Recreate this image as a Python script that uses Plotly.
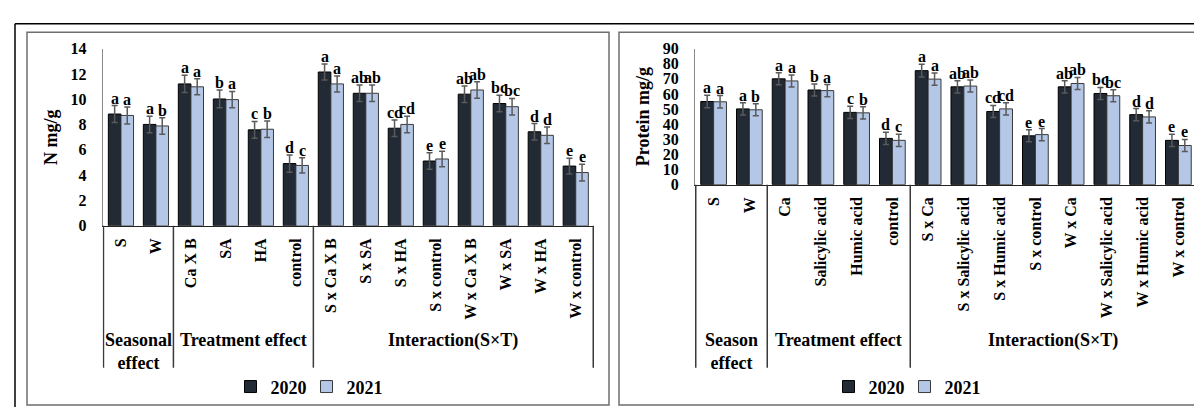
import plotly.graph_objects as go

# ---------------- data ----------------
n_categories = ["S", "W", "Ca X B", "SA", "HA", "control",
                "S x Ca X B", "S x SA", "S x HA", "S x control",
                "W x Ca X B", "W x SA", "W x HA", "W x control"]
n_2020 = [8.83, 8.01, 11.21, 10.02, 7.58, 4.92, 12.15, 10.47, 7.71, 5.12, 10.40, 9.66, 7.43, 4.72]
n_2021 = [8.72, 7.89, 10.98, 9.97, 7.63, 4.77, 11.21, 10.47, 8.01, 5.28, 10.73, 9.41, 7.15, 4.21]
n_err_2020 = [0.67, 0.65, 0.68, 0.70, 0.67, 0.68, 0.63, 0.65, 0.65, 0.65, 0.65, 0.65, 0.65, 0.62]
n_err_2021 = [0.67, 0.65, 0.63, 0.65, 0.65, 0.60, 0.63, 0.65, 0.65, 0.62, 0.65, 0.65, 0.65, 0.66]
n_let_2020 = ["a", "a", "a", "b", "c", "d", "a", "ab", "cd", "e", "ab", "bc", "d", "e"]
n_let_2021 = ["a", "b", "a", "a", "b", "c", "a", "ab", "cd", "e", "ab", "bc", "d", "e"]

p_categories = ["S", "W", "Ca", "Salicylic acid", "Humic acid", "control",
                "S x Ca", "S x Salicylic acid", "S x Humic acid", "S x control",
                "W x Ca", "W x Salicylic acid", "W x Humic acid", "W x control"]
p_2020 = [55.0, 50.1, 70.0, 62.6, 47.8, 30.6, 75.4, 64.7, 48.4, 32.3, 64.7, 60.3, 46.3, 29.3]
p_2021 = [54.8, 49.5, 68.6, 62.2, 47.5, 29.3, 69.8, 65.2, 50.1, 33.1, 66.9, 58.8, 44.8, 25.9]
p_err_2020 = [4.1, 4.0, 4.0, 4.0, 4.0, 4.0, 4.2, 4.0, 4.0, 4.0, 4.0, 4.0, 4.0, 4.0]
p_err_2021 = [4.1, 4.0, 4.0, 4.0, 4.0, 4.0, 4.0, 4.0, 4.0, 4.0, 4.0, 4.0, 4.0, 4.0]
p_let_2020 = ["a", "a", "a", "b", "c", "d", "a", "ab", "cd", "e", "ab", "bc", "d", "e"]
p_let_2021 = ["a", "b", "a", "a", "b", "c", "a", "ab", "cd", "e", "ab", "bc", "d", "e"]

years = ["2020", "2021"]
n_groups = ["Seasonal<br>effect", "Treatment effect", "Interaction(S×T)"]
p_groups = ["Season<br>effect", "Treatment effect", "Interaction(S×T)"]
group_centers = [0.5, 3.5, 9.5]
group_bounds = [-0.5, 1.5, 5.5, 13.5]

# ---------------- styling ----------------
W, H = 1202, 407
FONT = "Liberation Serif, Times New Roman, Tinos, serif"
DARK = "#222A35"
LIGHT = "#B4C7E7"
ERRC = "#5a5a5a"


def px(x):
    return x / W


def py(y):
    return 1 - y / H


def bfont(size):
    return dict(family=FONT, size=size, color="#000", weight="bold")


fig = go.Figure()


def add_panel(cats, v20, v21, e20, e21, xa, ya, legends):
    for vals, errs, name, col, lc, lg in [(v20, e20, years[0], DARK, "#000000", legends[0]),
                                          (v21, e21, years[1], LIGHT, "#3a3a3a", legends[1])]:
        fig.add_trace(go.Bar(
            x=cats, y=vals, name=name, xaxis=xa, yaxis=ya, legend=lg, showlegend=True,
            marker=dict(color=col, line=dict(color=lc, width=1)),
            error_y=dict(type="data", array=errs, visible=True, color=ERRC,
                         thickness=1.5, width=3),
        ))


add_panel(n_categories, n_2020, n_2021, n_err_2020, n_err_2021, "x", "y", ("legend", "legend2"))
add_panel(p_categories, p_2020, p_2021, p_err_2020, p_err_2021, "x2", "y2", ("legend3", "legend4"))

annotations = []


def add_letters(cats, v20, v21, e20, e21, l20, l21, xr, yr, shift):
    for i, c in enumerate(cats):
        for vals, errs, lets, s in [(v20, e20, l20, -shift), (v21, e21, l21, shift)]:
            annotations.append(dict(
                x=c, y=vals[i] + errs[i], xref=xr, yref=yr, text=lets[i],
                showarrow=False, xshift=s, yshift=-3, yanchor="bottom",
                font=bfont(16),
            ))


add_letters(n_categories, n_2020, n_2021, n_err_2020, n_err_2021, n_let_2020, n_let_2021, "x", "y", 6.3)
add_letters(p_categories, p_2020, p_2021, p_err_2020, p_err_2021, p_let_2020, p_let_2021, "x2", "y2", 6.45)

shapes = []


def add_groups(groups, xr, axis_y):
    for gx, gt in zip(group_centers, groups):
        annotations.append(dict(
            x=gx, y=py(326), xref=xr, yref="paper", text=gt, showarrow=False,
            yanchor="top", xanchor="center", align="center",
            font=bfont(18),
        ))
    for b in group_bounds:
        shapes.append(dict(type="line", xref=xr, yref="paper", x0=b, x1=b,
                           y0=py(axis_y), y1=py(367),
                           line=dict(color="#3a3a3a", width=1.5)))


add_groups(n_groups, "x", 219)
add_groups(p_groups, "x2", 176)

# frames
shapes.append(dict(type="line", xref="paper", yref="paper", x0=px(7), x1=px(1210),
                   y0=py(8), y1=py(8), line=dict(color="#000", width=1.5)))
shapes.append(dict(type="line", xref="paper", yref="paper", x0=px(7), x1=px(7),
                   y0=py(8), y1=py(410), line=dict(color="#000", width=1.5)))
shapes.append(dict(type="rect", xref="paper", yref="paper", x0=px(19), x1=px(601),
                   y0=py(406), y1=py(17), line=dict(color="#6e6e6e", width=1.5)))
shapes.append(dict(type="rect", xref="paper", yref="paper", x0=px(611), x1=px(1215),
                   y0=py(406), y1=py(17), line=dict(color="#6e6e6e", width=1.5)))

xcommon = dict(type="category", showline=True, linecolor="#222", linewidth=1.2,
               tickangle=-90, tickfont=bfont(16), ticks="", ticklabelstandoff=5,
               showgrid=False, zeroline=False)
ycommon = dict(showline=True, linecolor="#8a8a8a", linewidth=1.2, ticks="",
               tickfont=bfont(16), showgrid=False, zeroline=False, ticklabelstandoff=12)

legend_common = dict(orientation="h", xanchor="left", yanchor="middle", y=py(387),
                     font=bfont(18), bgcolor="rgba(0,0,0,0)", itemwidth=30)

fig.update_layout(
    width=W, height=H,
    margin=dict(l=0, r=0, t=0, b=0),
    paper_bgcolor="white", plot_bgcolor="white",
    showlegend=True,
    barmode="group", bargap=0.28, bargroupgap=0,
    font=dict(family=FONT, color="#000"),
    xaxis=dict(domain=[px(94.7), px(586)], anchor="y", **xcommon),
    yaxis=dict(domain=[py(219), py(34)], anchor="x", range=[0, 14], dtick=2,
               title=dict(text="N mg/g", font=bfont(18), standoff=8),
               **ycommon),
    xaxis2=dict(domain=[px(687), px(1189)], anchor="y2", **xcommon),
    yaxis2=dict(domain=[py(176), py(34)], anchor="x2", range=[0, 90], dtick=10,
                title=dict(text="Protein mg/g", font=bfont(18), standoff=8),
                **ycommon),
    legend=dict(x=px(222.5), **legend_common),
    legend2=dict(x=px(298.5), **legend_common),
    legend3=dict(x=px(820.5), **legend_common),
    legend4=dict(x=px(896.5), **legend_common),
    annotations=annotations,
    shapes=shapes,
)

fig.write_html("out.html")
